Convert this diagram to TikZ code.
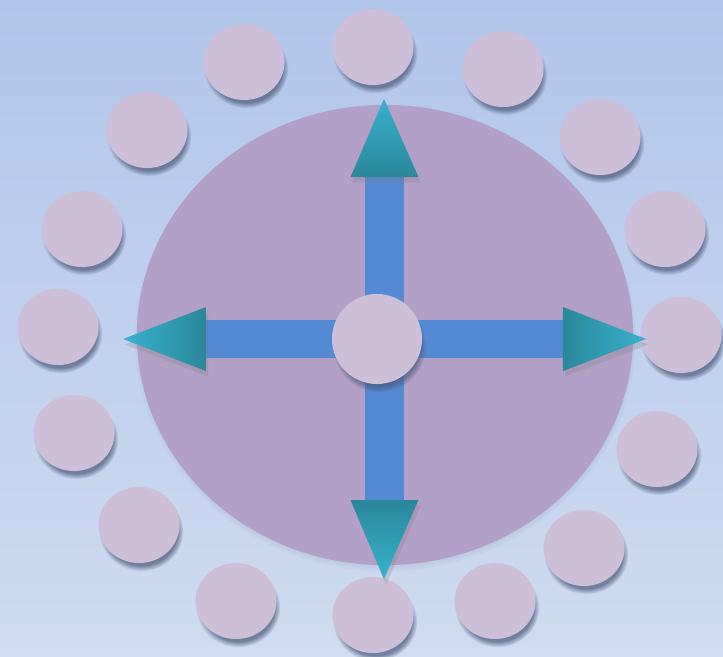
\documentclass[tikz,border=0pt]{standalone}
\usepackage{tikz}
\usetikzlibrary{shapes.geometric,shadows,calc}
\definecolor{bgtop}{HTML}{B0C6E8}
\definecolor{bgbot}{HTML}{CFDCF1}
\definecolor{plateC}{HTML}{B3A0C6}
\definecolor{dotC}{HTML}{CDBFD8}
\definecolor{barC}{HTML}{5489D4}
\definecolor{tipLight}{HTML}{38B2CE}
\definecolor{tipDark}{HTML}{2A8799}
\definecolor{shadeC}{HTML}{4A5A78}

\begin{document}
\begin{tikzpicture}[x=0.01cm, y=-0.01cm,
  plate/.style={ellipse, fill=plateC, minimum width=4.96cm, minimum height=4.60cm,
                circular drop shadow={shadow xshift=0pt, shadow yshift=-1.2pt, shadow scale=1.01,
                                      fill=shadeC, opacity=.5}},
  dot/.style={ellipse, fill=dotC, minimum width=0.81cm, minimum height=0.76cm, inner sep=0pt,
              circular drop shadow={shadow xshift=0.6pt, shadow yshift=-1.8pt, shadow scale=1.04,
                                    fill=shadeC, opacity=.7}},
  hub/.style={circle, fill=dotC, minimum size=0.90cm, inner sep=0pt,
              circular drop shadow={shadow xshift=0.6pt, shadow yshift=-1.8pt, shadow scale=1.04,
                                    fill=shadeC, opacity=.7}},
  bar/.style={draw=barC, line width=0.38cm},
  tipshade/.style={drop shadow={shadow xshift=0.6pt, shadow yshift=-1.6pt, opacity=.25}}
]
% Background
\shade[top color=bgtop, bottom color=bgbot] (0,0) rectangle (723,657);
\useasboundingbox (0,0) rectangle (723,657);
% Plate
\node[plate] (plate) at (385,335) {};
% Ring of dots
\foreach \x/\y [count=\i] in {373/47,503/69,600/137,665/229,681/335,657/449,584/548,495/601,
    373/615,236/601,139/525,74/433,58/327,82/229,147/130,244/62}
  \node[dot] (dot\i) at (\x,\y) {};
% Arrow points
\coordinate (nTip) at (384,99);  \coordinate (nBase) at (384.5,177);
\coordinate (sTip) at (384,579); \coordinate (sBase) at (384.5,500);
\coordinate (wTip) at (123,339); \coordinate (wBase) at (206,339);
\coordinate (eTip) at (646,339); \coordinate (eBase) at (563,339);
% Bars
\draw[bar] (nBase) -- (sBase);
\draw[bar] (wBase) -- (eBase);
% Heads
\shade[tipshade, top color=tipLight, bottom color=tipDark]
  ($(nBase)+(-34,0)$) -- (nTip) -- ($(nBase)+(34,0)$) -- cycle;
\shade[tipshade, top color=tipDark, bottom color=tipLight]
  ($(sBase)+(-34,0)$) -- (sTip) -- ($(sBase)+(34,0)$) -- cycle;
\shade[tipshade, left color=tipLight, right color=tipDark]
  ($(wBase)+(0,-32)$) -- (wTip) -- ($(wBase)+(0,32)$) -- cycle;
\shade[tipshade, left color=tipDark, right color=tipLight]
  ($(eBase)+(0,-32)$) -- (eTip) -- ($(eBase)+(0,32)$) -- cycle;
% Hub
\node[hub] (hub) at (377,339) {};
\end{tikzpicture}
\end{document}
